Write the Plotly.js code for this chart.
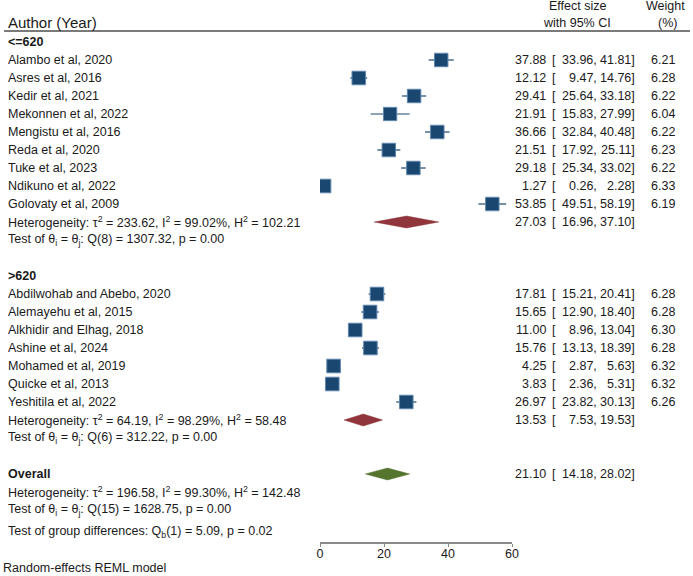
<!DOCTYPE html>
<html>
<head>
<meta charset="utf-8">
<script src="https://cdn.plot.ly/plotly-3.0.1.min.js"></script>
<style>
  html, body { margin: 0; padding: 0; background: #ffffff; }
  #chart { width: 693px; height: 576px; }
</style>
</head>
<body>
<div id="chart"></div>
<script>
// ---- Study data: prevalence estimates with 95% CI and REML weights ----
const groupLabels = ['<=620', '>620'];

const studies1 = ['Alambo et al, 2020', 'Asres et al, 2016', 'Kedir et al, 2021',
  'Mekonnen et al, 2022', 'Mengistu et al, 2016', 'Reda et al, 2020',
  'Tuke et al, 2023', 'Ndikuno et al, 2022', 'Golovaty et al, 2009'];
const est1 = [37.88, 12.12, 29.41, 21.91, 36.66, 21.51, 29.18, 1.27, 53.85];
const lo1  = [33.96, 9.47, 25.64, 15.83, 32.84, 17.92, 25.34, 0.26, 49.51];
const hi1  = [41.81, 14.76, 33.18, 27.99, 40.48, 25.11, 33.02, 2.28, 58.19];
const wt1  = [6.21, 6.28, 6.22, 6.04, 6.22, 6.23, 6.22, 6.33, 6.19];

const studies2 = ['Abdilwohab and Abebo, 2020', 'Alemayehu et al, 2015',
  'Alkhidir and Elhag, 2018', 'Ashine et al, 2024', 'Mohamed et al, 2019',
  'Quicke et al, 2013', 'Yeshitila et al, 2022'];
const est2 = [17.81, 15.65, 11.00, 15.76, 4.25, 3.83, 26.97];
const lo2  = [15.21, 12.90, 8.96, 13.13, 2.87, 2.36, 23.82];
const hi2  = [20.41, 18.40, 13.04, 18.39, 5.63, 5.31, 30.13];
const wt2  = [6.28, 6.28, 6.30, 6.28, 6.32, 6.32, 6.26];

// Subgroup pooled estimates and heterogeneity statistics
const subEst = [27.03, 13.53];
const subLo  = [16.96, 7.53];
const subHi  = [37.10, 19.53];
const subTau2 = ['233.62', '64.19'];
const subI2   = ['99.02', '98.29'];
const subH2   = ['102.21', '58.48'];
const subQdf  = [8, 6];
const subQ    = ['1307.32', '312.22'];
const subP    = ['0.00', '0.00'];

// Overall pooled estimate
const overallEst = 21.10, overallLo = 14.18, overallHi = 28.02;
const overallTau2 = '196.58', overallI2 = '99.30', overallH2 = '142.48';
const overallQdf = 15, overallQ = '1628.75', overallP = '0.00';
const groupDiffDf = 1, groupDiffQ = '5.09', groupDiffP = '0.02';

const xTicks = [0, 20, 40, 60];

// ---- Page geometry ----
const W = 693, H = 576;
const ROW_TOP = 60, ROW_H = 18, AXIS_Y = 542;
const FONT = 'Liberation Sans, Arial, sans-serif';
const INK = '#1a1a1a';
const NAVY = '#1a476f';
const RED = '#90353b';
const GREEN = '#55752f';

const groups = [
  {name: groupLabels[0], labels: studies1, est: est1, lo: lo1, hi: hi1, wt: wt1},
  {name: groupLabels[1], labels: studies2, est: est2, lo: lo2, hi: hi2, wt: wt2}
];

const traces = [];
const annotations = [];
const fmt = v => v.toFixed(2);

function txt(text, px, row, anchor, extra) {
  const a = {
    xref: 'paper', yref: 'y', x: px / W, y: row, text: text,
    xanchor: anchor, yanchor: 'middle', showarrow: false, borderpad: 0,
    font: {family: FONT, size: 12.5, color: INK}
  };
  return Object.assign(a, extra || {});
}

// effect size column split so the brackets and numbers line up
function effectCols(e, l, h, row) {
  annotations.push(txt(fmt(e), 547, row, 'right'));
  annotations.push(txt('[', 551, row, 'left'));
  annotations.push(txt(fmt(l) + ',', 598, row, 'right'));
  annotations.push(txt(fmt(h) + ']', 636, row, 'right'));
}

function diamond(e, l, h, row, color) {
  const d = 0.33;
  traces.push({
    type: 'scatter', mode: 'lines', fill: 'toself', fillcolor: color,
    x: [l, e, h, e, l], y: [row, row - d, row, row + d, row],
    line: {color: color, width: 0.5}, hoverinfo: 'skip'
  });
}

function hetText(t2, i2, h2) {
  return 'Heterogeneity: \u03c4<sup>2</sup> = ' + t2 + ', I<sup>2</sup> = ' + i2 +
         '%, H<sup>2</sup> = ' + h2;
}
function testText(df, q, p) {
  return 'Test of \u03b8<sub>i</sub> = \u03b8<sub>j</sub>: Q(' + df + ') = ' + q + ', p = ' + p;
}

let r = -1;
groups.forEach((g, gi) => {
  const header = g.name.replace('<', '&lt;').replace('>', '&gt;');
  annotations.push(txt('<b>' + header + '</b>', 7, r, 'left'));
  r += 1;
  const rows = g.labels.map((_, i) => r + i);
  // CI whiskers
  const cx = [], cy = [];
  g.lo.forEach((l, i) => { cx.push(l, g.hi[i], null); cy.push(rows[i], rows[i], null); });
  traces.push({type: 'scatter', mode: 'lines', x: cx, y: cy,
    line: {color: NAVY, width: 1.2}, hoverinfo: 'skip'});
  // weighted boxes
  traces.push({type: 'scatter', mode: 'markers', x: g.est, y: rows,
    marker: {symbol: 'square', color: NAVY, opacity: 1,
      size: g.wt.map(w => 13.5 * Math.sqrt(w / 6.25)),
      line: {color: '#5f86ad', width: 1}},
    hoverinfo: 'skip'});
  g.labels.forEach((lab, i) => {
    annotations.push(txt(lab, 7, rows[i], 'left'));
    effectCols(g.est[i], g.lo[i], g.hi[i], rows[i]);
    annotations.push(txt(fmt(g.wt[i]), 676, rows[i], 'right'));
  });
  r += g.labels.length;
  diamond(subEst[gi], subLo[gi], subHi[gi], r, RED);
  annotations.push(txt(hetText(subTau2[gi], subI2[gi], subH2[gi]), 7, r, 'left'));
  effectCols(subEst[gi], subLo[gi], subHi[gi], r);
  r += 1;
  annotations.push(txt(testText(subQdf[gi], subQ[gi], subP[gi]), 7, r, 'left'));
  r += 2;
});

// Overall block
diamond(overallEst, overallLo, overallHi, r, GREEN);
annotations.push(txt('<b>Overall</b>', 7, r, 'left'));
effectCols(overallEst, overallLo, overallHi, r);
annotations.push(txt(hetText(overallTau2, overallI2, overallH2), 7, r + 1, 'left'));
annotations.push(txt(testText(overallQdf, overallQ, overallP), 7, r + 2, 'left'));
annotations.push(txt('Test of group differences: Q<sub>b</sub>(' + groupDiffDf + ') = ' +
  groupDiffQ + ', p = ' + groupDiffP, 7, r + 3.2, 'left'));

// Column headers
const hdrRow = px => (px - ROW_TOP) / ROW_H;
annotations.push(txt('Author (Year)', 7, hdrRow(22), 'left', {font: {family: FONT, size: 15, color: INK}}));
annotations.push(txt('Effect size', 577, hdrRow(6), 'center'));
annotations.push(txt('with 95% CI', 577, hdrRow(23), 'center'));
annotations.push(txt('Weight', 665, hdrRow(6), 'center'));
annotations.push(txt('(%)', 667, hdrRow(23), 'center'));

// Footnote
annotations.push({xref: 'paper', yref: 'paper', x: 2 / W, y: 1 - 568 / H,
  text: 'Random-effects REML model', xanchor: 'left', yanchor: 'middle',
  showarrow: false, borderpad: 0, font: {family: FONT, size: 12.5, color: INK}});

const layout = {
  width: W, height: H,
  margin: {l: 0, r: 0, t: 0, b: 0, pad: 0},
  paper_bgcolor: '#ffffff', plot_bgcolor: '#ffffff',
  showlegend: false,
  font: {family: FONT, color: INK},
  xaxis: {
    domain: [320 / W, 512 / W], range: [0, 60],
    tickvals: xTicks, ticktext: xTicks.map(String),
    ticks: 'outside', ticklen: 3, tickwidth: 1, tickcolor: '#8a8a8a',
    ticklabelstandoff: -4,
    showline: true, linecolor: '#8a8a8a', linewidth: 1.5,
    showgrid: false, zeroline: false, fixedrange: true,
    tickfont: {family: FONT, size: 12.5, color: INK}
  },
  yaxis: {
    domain: [(H - AXIS_Y) / H, 1],
    range: [(AXIS_Y - ROW_TOP) / ROW_H, -ROW_TOP / ROW_H],
    visible: false, showgrid: false, zeroline: false, fixedrange: true
  },
  shapes: [{
    type: 'line', xref: 'paper', yref: 'y', x0: 4 / W, x1: 690 / W,
    y0: hdrRow(31), y1: hdrRow(31), line: {color: '#7a7a7a', width: 2}
  }],
  annotations: annotations
};

Plotly.newPlot('chart', traces, layout, {staticPlot: true, displayModeBar: false});
</script>
</body>
</html>
